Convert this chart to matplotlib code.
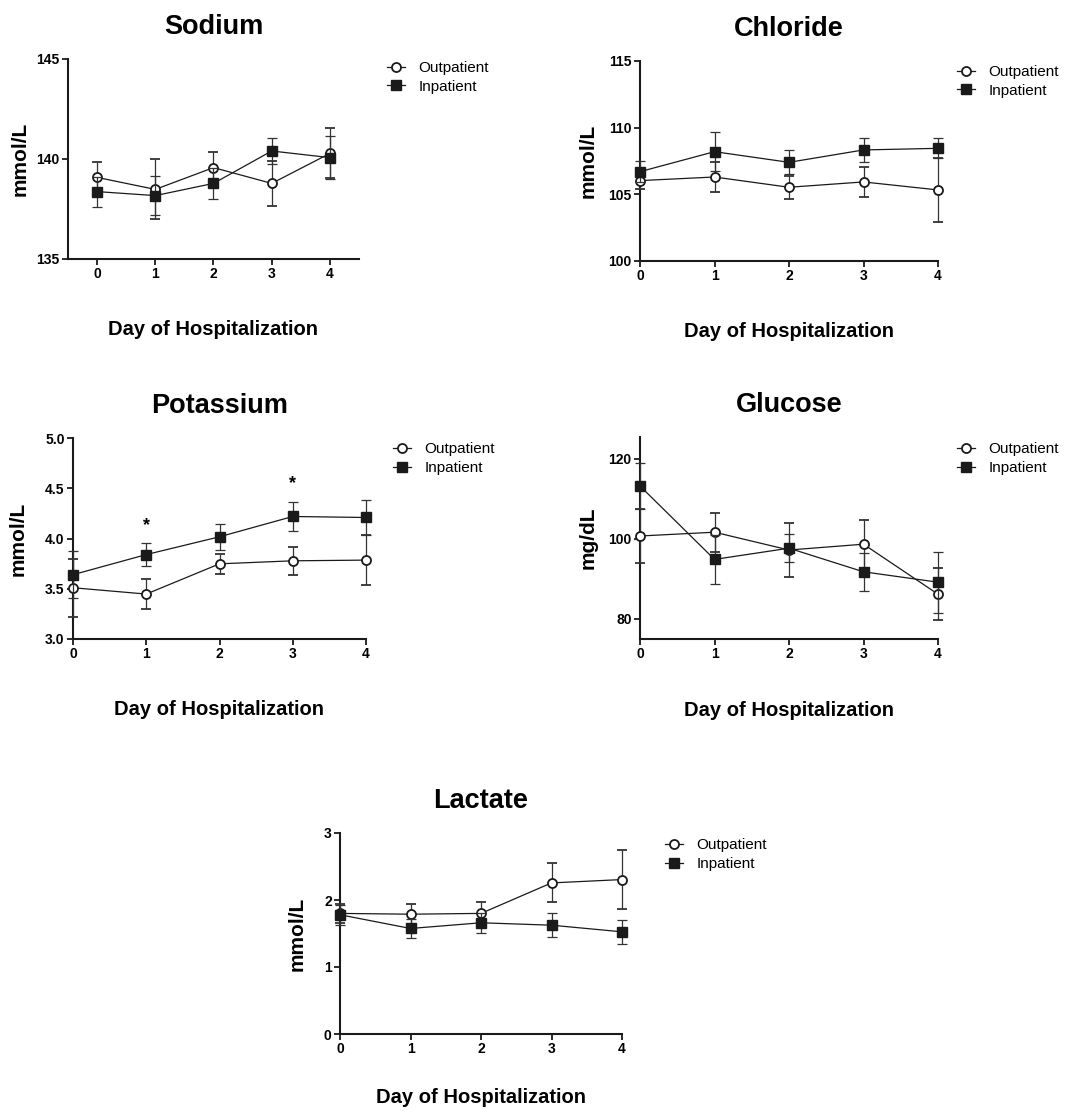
import matplotlib
matplotlib.use("Agg")
import matplotlib.pyplot as plt

plt.rcParams['font.family'] = ['Liberation Sans', 'DejaVu Sans']

# Daten
days = [0, 1, 2, 3, 4]

sodium_out = [139.08, 138.48, 139.57, 138.78, 140.28]
sodium_out_err = [0.75, 1.5, 0.8, 1.13, 1.25]
sodium_in = [138.37, 138.17, 138.78, 140.4, 140.07]
sodium_in_err = [0.75, 0.96, 0.78, 0.65, 1.07]

chloride_out = [106.03, 106.3, 105.53, 105.93, 105.33]
chloride_out_err = [0.6, 1.12, 0.85, 1.12, 2.38]
chloride_in = [106.7, 108.2, 107.4, 108.33, 108.45]
chloride_in_err = [0.8, 1.44, 0.9, 0.87, 0.75]

potassium_out = [3.51, 3.447, 3.748, 3.778, 3.785]
potassium_out_err = [0.29, 0.148, 0.098, 0.14, 0.252]
potassium_in = [3.64, 3.84, 4.017, 4.219, 4.209]
potassium_in_err = [0.235, 0.115, 0.13, 0.148, 0.17]
potassium_stars = [(1, 4.13), (3, 4.55)]

glucose_out = [100.75, 101.7, 97.25, 98.7, 86.2]
glucose_out_err = [6.85, 4.9, 6.8, 6.0, 6.5]
glucose_in = [113.25, 94.9, 97.7, 91.8, 89.2]
glucose_in_err = [5.8, 6.2, 3.5, 4.8, 7.6]

lactate_out = [1.80, 1.788, 1.80, 2.255, 2.305]
lactate_out_err = [0.14, 0.15, 0.17, 0.29, 0.435]
lactate_in = [1.78, 1.575, 1.66, 1.624, 1.525]
lactate_in_err = [0.15, 0.135, 0.15, 0.175, 0.178]

W, H = 1070, 1111

# Panels: Titel, Einheit, Werte, Achsen (Pixel), Limits, Ticks
panels = [
    dict(title="Sodium", unit="mmol/L", out=sodium_out, out_err=sodium_out_err,
         inp=sodium_in, in_err=sodium_in_err, box=(68, 59, 359, 259),
         xlim=(-0.5, 4.5), ylim=(135, 145), yticks=[135, 140, 145], fmt="{:.0f}",
         ylab_dx=48, xlab_y=-0.38, leg=(1.096, 0.99)),
    dict(title="Chloride", unit="mmol/L", out=chloride_out, out_err=chloride_out_err,
         inp=chloride_in, in_err=chloride_in_err, box=(640, 61, 938, 261),
         xlim=(0, 4), ylim=(100, 115), yticks=[100, 105, 110, 115], fmt="{:.0f}",
         ylab_dx=52, xlab_y=-0.38, leg=(1.064, 0.98)),
    dict(title="Potassium", unit="mmol/L", out=potassium_out, out_err=potassium_out_err,
         inp=potassium_in, in_err=potassium_in_err, box=(73, 438, 366, 639),
         xlim=(0, 4), ylim=(3.0, 5.0), yticks=[3.0, 3.5, 4.0, 4.5, 5.0], fmt="{:.1f}",
         ylab_dx=55, xlab_y=-0.38, leg=(1.092, 0.978), stars=potassium_stars),
    dict(title="Glucose", unit="mg/dL", out=glucose_out, out_err=glucose_out_err,
         inp=glucose_in, in_err=glucose_in_err, box=(640, 437, 938, 639),
         xlim=(0, 4), ylim=(75, 125.5), yticks=[80, 100, 120], fmt="{:.0f}",
         ylab_dx=52, xlab_y=-0.38, leg=(1.064, 0.973)),
    dict(title="Lactate", unit="mmol/L", out=lactate_out, out_err=lactate_out_err,
         inp=lactate_in, in_err=lactate_in_err, box=(340, 833, 622, 1034),
         xlim=(0, 4), ylim=(0, 3), yticks=[0, 1, 2, 3], fmt="{:.0f}",
         ylab_dx=43, xlab_y=-0.345, leg=(1.152, 0.973)),
]

fig = plt.figure(figsize=(W / 100, H / 100), dpi=100)

for p in panels:
    x0, y0, x1, y1 = p["box"]
    ax = fig.add_axes([x0 / W, 1 - y1 / H, (x1 - x0) / W, (y1 - y0) / H])

    eb_out = ax.errorbar(days, p["out"], yerr=p["out_err"], color="#1a1a1a", lw=0.9,
                         marker="o", ms=6.5, mfc="white", mec="#1a1a1a", mew=1.3,
                         capsize=3.5, capthick=0.9, elinewidth=0.9, ecolor="#333333",
                         clip_on=False, zorder=3)
    eb_in = ax.errorbar(days, p["inp"], yerr=p["in_err"], color="#1a1a1a", lw=0.9,
                        marker="s", ms=6.5, mfc="#1a1a1a", mec="#1a1a1a",
                        capsize=3.5, capthick=0.9, elinewidth=0.9, ecolor="#333333",
                        clip_on=False, zorder=4)

    for sx, sy in p.get("stars", []):
        ax.text(sx, sy, "*", ha="center", va="center", fontsize=13, fontweight="bold")

    ax.set_xlim(*p["xlim"])
    ax.set_ylim(*p["ylim"])
    ax.set_xticks(days)
    ax.set_xticklabels([str(d) for d in days])
    ax.set_yticks(p["yticks"])
    ax.set_yticklabels([p["fmt"].format(t) for t in p["yticks"]])

    for side in ("top", "right"):
        ax.spines[side].set_visible(False)
    for side in ("left", "bottom"):
        ax.spines[side].set_linewidth(1.5)
        ax.spines[side].set_color("#1a1a1a")
    ax.tick_params(direction="out", length=4, width=1.3, labelsize=10, pad=2,
                   color="#1a1a1a")
    for lbl in ax.get_xticklabels() + ax.get_yticklabels():
        lbl.set_fontweight("bold")

    ax.set_title(p["title"], fontsize=19.5, fontweight="bold", pad=18)
    ax.set_ylabel(p["unit"], fontsize=15, fontweight="bold", va="center")
    ax.yaxis.set_label_coords(-p["ylab_dx"] / (x1 - x0), 0.5)
    ax.set_xlabel("Day of Hospitalization", fontsize=14.5, fontweight="bold", va="baseline")
    ax.xaxis.set_label_coords(0.5, p["xlab_y"])

    # nur Linie + Marker in der Legende, ohne Fehlerbalken
    ax.legend([eb_out[0], eb_in[0]], ["Outpatient", "Inpatient"],
              loc="upper left", bbox_to_anchor=p["leg"], frameon=False,
              fontsize=11, handlelength=1.2, handletextpad=0.85,
              borderpad=0, borderaxespad=0, labelspacing=0.3)

fig.savefig("out.png", dpi=100)
